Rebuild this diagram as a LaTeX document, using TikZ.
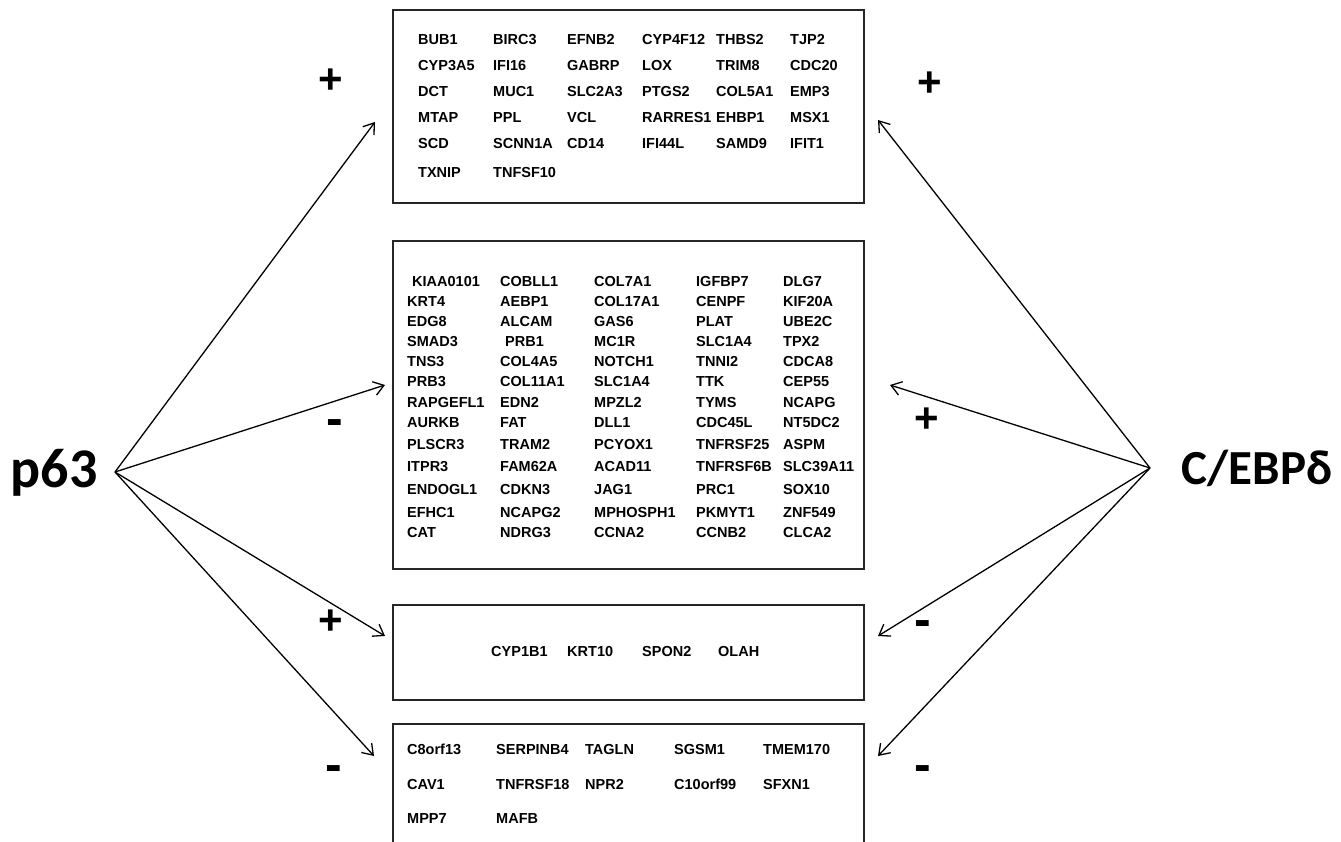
\documentclass[tikz,border=0pt]{standalone}
\usepackage{fontspec}
\setmainfont{Liberation Sans}
\newfontfamily\calfont{Carlito}
\usetikzlibrary{arrows.meta}
\tikzset{
  gene/.style={anchor=base west, inner sep=0pt, font=\bfseries\fontsize{14.5}{17}\selectfont},
  gbox/.style={draw=black!85, line width=2pt, anchor=north west, inner sep=0pt},
  conn/.style={line width=1.3pt, -{Straight Barb[length=10pt,width=14pt,line width=1.3pt]}},
  sign/.style={inner sep=0pt, font=\bfseries\fontsize{42}{42}\selectfont},
  minus/.style={inner sep=0pt, font=\bfseries\fontsize{50}{50}\selectfont},
  big/.style={inner sep=0pt, font=\calfont\bfseries\fontsize{56}{60}\selectfont}
}
\begin{document}
\begin{tikzpicture}[x=1pt,y=-1pt]
\useasboundingbox (0,0) rectangle (1341,842);
\clip (0,0) rectangle (1341,842);
% boxes
\node[gbox, minimum width=471pt, minimum height=193pt] (b1) at (392,9) {};
\node[gbox, minimum width=471pt, minimum height=328pt] (b2) at (392,240) {};
\node[gbox, minimum width=471pt, minimum height=95pt] (b3) at (392,604) {};
\node[gbox, minimum width=471pt, minimum height=140pt] (b4) at (392,723) {};
% top box genes
\foreach \yy/\row [count=\r] in {
  39/{BUB1,BIRC3,EFNB2,CYP4F12,THBS2,TJP2},
  65/{CYP3A5,IFI16,GABRP,LOX,TRIM8,CDC20},
  91/{DCT,MUC1,SLC2A3,PTGS2,COL5A1,EMP3},
  117/{MTAP,PPL,VCL,RARRES1,EHBP1,MSX1},
  143/{SCD,SCNN1A,CD14,IFI44L,SAMD9,IFIT1},
  172/{TXNIP,TNFSF10}}{
  \foreach \g [count=\c] in \row {
    \pgfmathsetmacro{\xx}{{418,493,567,642,716,790}[\c-1]}
    \node[gene] (t-\r-\c) at (\xx,\yy+5.2) {\g};
  }
}
% middle box genes
\foreach \yy/\row [count=\r] in {
  281/{\hspace{5pt}KIAA0101,COBLL1,COL7A1,IGFBP7,DLG7},
  301/{KRT4,AEBP1,COL17A1,CENPF,KIF20A},
  321/{EDG8,ALCAM,GAS6,PLAT,UBE2C},
  341/{SMAD3,\hspace{5pt}PRB1,MC1R,SLC1A4,TPX2},
  361/{TNS3,COL4A5,NOTCH1,TNNI2,CDCA8},
  381/{PRB3,COL11A1,SLC1A4,TTK,CEP55},
  402/{RAPGEFL1,EDN2,MPZL2,TYMS,NCAPG},
  422/{AURKB,FAT,DLL1,CDC45L,NT5DC2},
  444/{PLSCR3,TRAM2,PCYOX1,TNFRSF25,ASPM},
  466/{ITPR3,FAM62A,ACAD11,TNFRSF6B,SLC39A11},
  489/{ENDOGL1,CDKN3,JAG1,PRC1,SOX10},
  512/{EFHC1,NCAPG2,MPHOSPH1,PKMYT1,ZNF549},
  532/{CAT,NDRG3,CCNA2,CCNB2,CLCA2}}{
  \foreach \g [count=\c] in \row {
    \pgfmathsetmacro{\xx}{{407,500,594,696,783}[\c-1]}
    \node[gene] (m-\r-\c) at (\xx,\yy+5.2) {\g};
  }
}
% third box genes
\foreach \xx/\g [count=\c] in {491/CYP1B1,567/KRT10,642/SPON2,718/OLAH}{
  \node[gene] (s-\c) at (\xx,651+5.2) {\g};
}
% bottom box genes
\foreach \yy/\row [count=\r] in {
  749/{C8orf13,SERPINB4,TAGLN,SGSM1,TMEM170},
  784/{CAV1,TNFRSF18,NPR2,C10orf99,SFXN1},
  818/{MPP7,MAFB}}{
  \foreach \g [count=\c] in \row {
    \pgfmathsetmacro{\xx}{{407,496,585,674,763}[\c-1]}
    \node[gene] (n-\r-\c) at (\xx,\yy+5.2) {\g};
  }
}
% labels
\node[big] (p63) at (54,473) {p63};
\node[big, font=\calfont\bfseries\fontsize{49}{54}\selectfont] (cebp) at (1257,468) {C/EBPδ};
% connector ends
\coordinate (lo) at (115,472);
\coordinate (ro) at (1150,468);
\coordinate (l1) at (375,122);
\coordinate (l2) at (385,385);
\coordinate (l3) at (385,636);
\coordinate (l4) at (374,756);
\coordinate (r1) at (878,120);
\coordinate (r2) at (890,385);
\coordinate (r3) at (878,636);
\coordinate (r4) at (878,756);
\foreach \i in {1,2,3,4}{
  \draw[conn] (lo) -- (l\i);
  \draw[conn] (ro) -- (r\i);
}
% signs
\node[sign] (sl1) at (331,81) {+};
\node[minus] (sl2) at (335,428) {-};
\node[sign] (sl3) at (331,622) {+};
\node[minus] (sl4) at (334,774) {-};
\node[sign] (sr1) at (930,84) {+};
\node[sign] (sr2) at (927,420) {+};
\node[minus] (sr3) at (923,629) {-};
\node[minus] (sr4) at (923,774) {-};
\end{tikzpicture}
\end{document}
